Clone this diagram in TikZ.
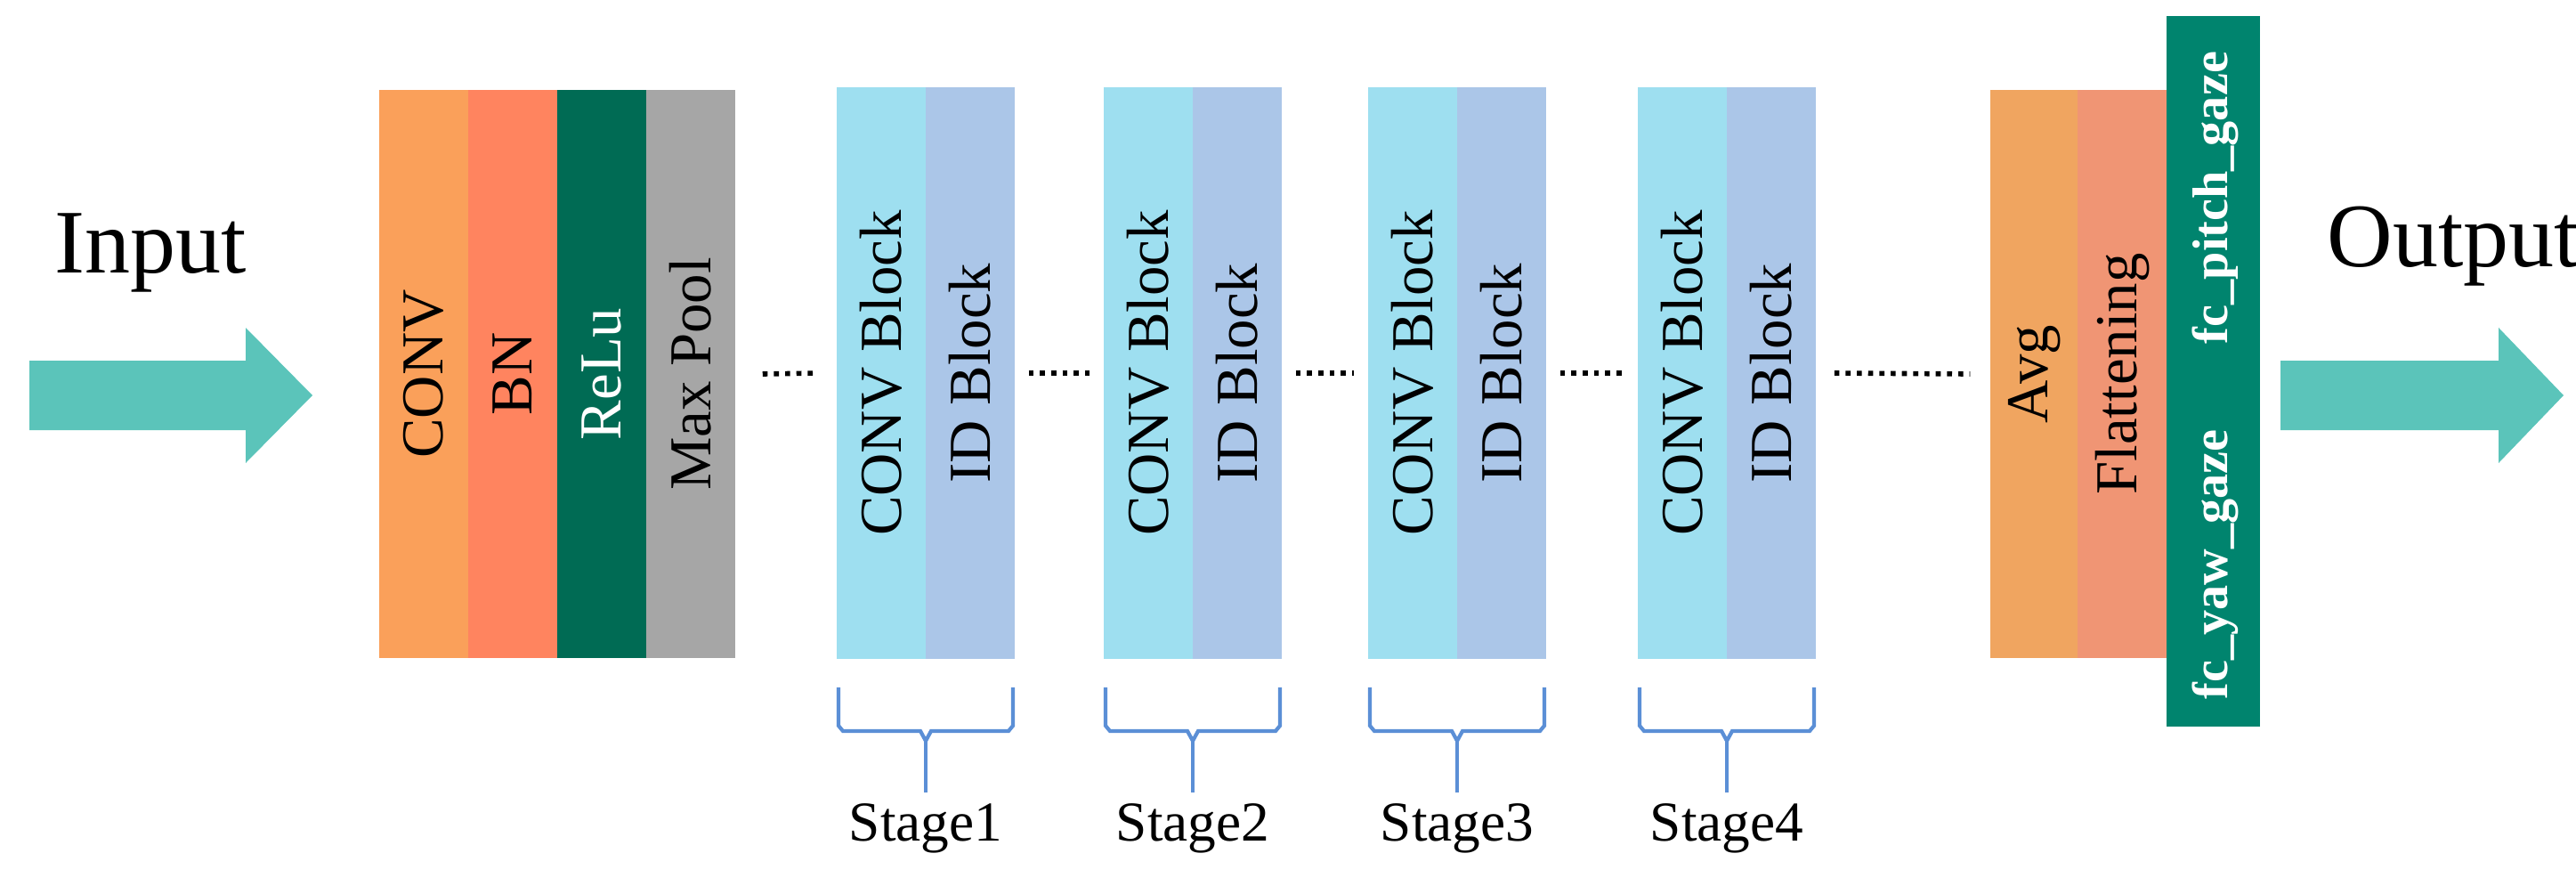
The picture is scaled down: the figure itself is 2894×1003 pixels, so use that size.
\documentclass[tikz,border=0pt]{standalone}
\usepackage{fontspec}
\setmainfont{Liberation Serif}
\definecolor{cconv}{HTML}{FAA05A}
\definecolor{cbn}{HTML}{FF845F}
\definecolor{crelu}{HTML}{006B54}
\definecolor{cpool}{HTML}{A6A6A6}
\definecolor{cblk}{HTML}{9EDFF0}
\definecolor{cid}{HTML}{ABC6E8}
\definecolor{cavg}{HTML}{F0A560}
\definecolor{cflat}{HTML}{F09574}
\definecolor{cfc}{HTML}{00846E}
\definecolor{carrow}{HTML}{5BC4BA}
\definecolor{cbrace}{HTML}{5B8FD6}
\tikzset{
  layer/.style={rectangle, inner sep=0pt, minimum width=1cm, font=\fontsize{19}{19}\selectfont},
  bigtext/.style={font=\fontsize{29}{29}\selectfont},
  dots/.style={line width=1.6pt, dotted},
}
\begin{document}
\begin{tikzpicture}[x=0.01cm, y=-0.01cm]
    \useasboundingbox (0,0) rectangle (2894,1003);

    % --- Eingang ---
    \fill[carrow] (33,405) -- (276,405) -- (276,368) -- (351,444) -- (276,520) -- (276,483) -- (33,483) -- cycle;
    \node[bigtext] (input) at (169,284) {Input};

    % --- Stem ---
    \node[layer, fill=cconv, minimum height=6.38cm] (conv) at (476,420) {};
    \node[rotate=90, font=\fontsize{19}{19}\selectfont] at (conv) {CONV};
    \node[layer, fill=cbn, minimum height=6.38cm] (bn) at (576,420) {};
    \node[rotate=90, font=\fontsize{19}{19}\selectfont] at (bn) {BN};
    \node[layer, fill=crelu, minimum height=6.38cm] (relu) at (676,420) {};
    \node[rotate=90, white, font=\fontsize{19}{19}\selectfont] at (relu) {ReLu};
    \node[layer, fill=cpool, minimum height=6.38cm] (pool) at (776,420) {};
    \node[rotate=90, font=\fontsize{19}{19}\selectfont] at (pool) {Max Pool};

    % --- Stages ---
    \foreach \i/\x in {1/940, 2/1240, 3/1537, 4/1840} {
        \node[layer, fill=cblk, minimum height=6.42cm] (cb\i) at (\x+50,419) {};
        \node[rotate=90, font=\fontsize{19}{19}\selectfont] at (cb\i) {CONV Block};
        \node[layer, fill=cid, minimum height=6.42cm] (id\i) at (\x+150,419) {};
        \node[rotate=90, font=\fontsize{19}{19}\selectfont] at (id\i) {ID Block};
        % Klammer
        \coordinate (tip\i) at (\x+100,832);
        \draw[cbrace, line width=1.2pt] (\x+2,772) -- (\x+2,815) -- (\x+7,821) -- (\x+94,821) -- (tip\i)
            -- (\x+106,821) -- (\x+193,821) -- (\x+198,815) -- (\x+198,772);
        \node[font=\fontsize{18}{18}\selectfont] (st\i) at (\x+100,930) {Stage\i};
        \draw[cbrace, line width=1.2pt] (tip\i) -- (st\i.north);
    }

    % --- Kopf ---
    \node[layer, fill=cavg, minimum height=6.38cm] (avg) at (2286,420) {};
    \node[rotate=90, font=\fontsize{19}{19}\selectfont] at (avg) {Avg};
    \node[layer, fill=cflat, minimum height=6.38cm] (flat) at (2384,420) {};
    \node[rotate=90, font=\fontsize{19}{19}\selectfont] at (flat) {Flattening};
    \node[rectangle, inner sep=0pt, fill=cfc, minimum width=1.05cm, minimum height=7.98cm] (fc) at (2486,417) {};
    \node[rotate=90, white, font=\bfseries\fontsize{16}{16}\selectfont] (pitch) at (2489,222) {fc\_pitch\_gaze};
    \node[rotate=90, white, font=\bfseries\fontsize{16}{16}\selectfont] (yaw) at (2489,634) {fc\_yaw\_gaze};

    % --- Punkte ---
    \draw[dots] ([xshift=0.3cm]pool.east) -- ([xshift=-0.2cm]cb1.west);
    \draw[dots] ([xshift=0.15cm]id1.east) -- ([xshift=-0.15cm]cb2.west);
    \draw[dots] ([xshift=0.15cm]id2.east) -- ([xshift=-0.15cm]cb3.west);
    \draw[dots] ([xshift=0.15cm]id3.east) -- ([xshift=-0.15cm]cb4.west);
    \draw[dots] ([xshift=0.2cm]id4.east) -- ([xshift=-0.22cm]avg.west);

    % --- Ausgang ---
    \fill[carrow] (2562,405) -- (2807,405) -- (2807,368) -- (2880,444) -- (2807,520) -- (2807,483) -- (2562,483) -- cycle;
    \node[bigtext] (output) at (2756,277) {Output};
\end{tikzpicture}
\end{document}
